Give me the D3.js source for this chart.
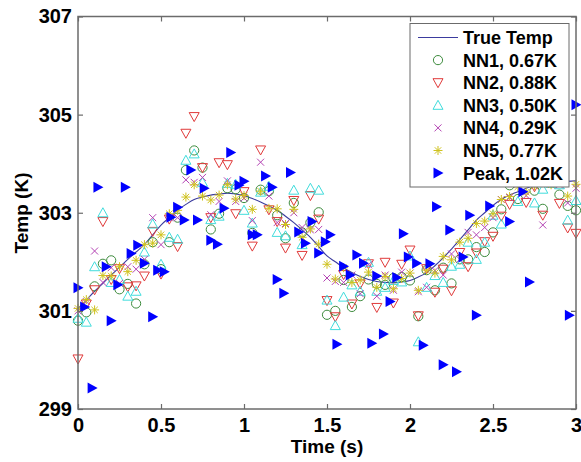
<!DOCTYPE html>
<html><head><meta charset="utf-8">
<script src="https://cdn.jsdelivr.net/npm/d3@7"></script>
<style>body{margin:0;background:#fff;} svg{display:block;font-family:"Liberation Sans",Arial,sans-serif;}</style>
</head><body>
<svg id="c" width="581" height="462"></svg>
<script>
const times = [0,0.05,0.1,0.15,0.2,0.25,0.3,0.35,0.4,0.45,0.5,0.55,0.6,0.65,0.7,0.75,0.8,0.85,0.9,0.95,1,1.05,1.1,1.15,1.2,1.25,1.3,1.35,1.4,1.45,1.5,1.55,1.6,1.65,1.7,1.75,1.8,1.85,1.9,1.95,2,2.05,2.1,2.15,2.2,2.25,2.3,2.35,2.4,2.45,2.5,2.55,2.6,2.65,2.7,2.75,2.8,2.85,2.9,2.95,3];
const trueTemp = [301.05,301.22,301.40,301.56,301.73,301.89,302.05,302.20,302.35,302.55,302.75,302.90,303.05,303.17,303.27,303.32,303.36,303.38,303.40,303.38,303.35,303.29,303.22,303.14,303.05,302.93,302.80,302.65,302.50,302.31,302.12,302.00,301.88,301.78,301.70,301.64,301.60,301.58,301.57,301.59,301.62,301.69,301.78,301.92,302.08,302.26,302.45,302.65,302.85,303.00,303.15,303.27,303.36,303.43,303.50,303.55,303.58,303.60,303.62,303.64,303.65];
const nn1 = [300.80,300.97,301.50,301.96,302.03,301.44,301.55,301.15,301.95,302.40,301.85,302.40,302.90,303.87,304.27,303.92,302.66,302.98,303.50,303.48,303.30,302.59,303.47,303.44,302.95,302.48,303.20,302.60,302.80,303.01,300.92,301.00,301.63,301.08,301.30,301.64,301.55,301.53,301.67,301.69,301.62,300.89,301.83,301.42,301.88,301.56,302.05,302.05,302.30,302.20,302.60,303.07,303.56,303.28,303.80,303.45,303.08,303.85,303.37,303.14,303.05];
const nn2 = [300.02,301.14,301.43,302.82,301.64,301.86,301.49,301.51,301.71,302.62,301.75,302.87,302.31,304.62,304.96,303.92,302.90,304.02,303.98,302.98,303.43,302.32,304.28,303.06,302.82,302.28,303.25,302.13,303.35,302.87,301.21,300.88,301.74,301.14,301.55,301.96,301.07,301.99,301.16,301.95,302.24,300.90,301.86,301.38,301.85,301.41,302.19,301.90,302.18,302.41,302.52,302.93,303.17,303.73,303.21,303.53,302.95,303.91,303.19,302.69,302.58];
const nn3 = [300.85,300.77,301.90,303.00,301.58,301.64,301.30,301.40,302.20,302.77,301.95,302.50,302.46,304.07,304.20,303.62,302.86,302.93,303.60,303.58,303.05,302.79,303.42,303.54,302.60,302.53,303.46,302.35,303.50,303.46,301.22,300.70,301.28,301.53,301.40,301.99,301.40,301.48,301.62,301.59,302.12,300.37,301.48,301.72,301.58,301.91,301.95,302.40,302.05,302.40,302.95,302.77,303.66,303.23,303.70,303.20,303.48,303.60,303.57,302.85,303.25];
const nn4 = [301.00,301.19,302.22,301.58,301.88,301.56,301.90,301.85,302.05,302.90,302.35,302.90,302.90,303.67,303.62,303.72,302.96,303.23,303.65,303.23,303.30,302.84,304.03,303.34,302.80,302.78,303.00,302.70,302.65,302.66,301.67,301.60,301.58,301.73,301.35,301.94,301.30,301.73,301.42,301.79,301.77,301.39,301.48,301.82,301.73,302.16,302.05,302.60,302.55,302.70,302.90,303.27,303.31,303.58,303.35,303.55,302.75,303.85,303.57,303.20,303.50];
const nn5 = [301.05,301.23,301.02,301.72,301.71,301.90,301.80,302.03,302.35,302.38,302.55,302.98,303.05,303.32,303.57,303.34,303.26,303.36,303.57,303.28,303.35,303.07,303.44,303.09,303.08,302.76,303.07,302.50,302.67,302.36,301.95,301.65,301.88,301.58,301.63,301.79,301.48,301.70,301.45,301.66,301.77,301.42,301.83,301.77,302.11,302.04,302.40,302.48,302.78,302.83,302.98,303.27,303.33,303.53,303.42,303.55,303.61,303.57,303.65,303.34,303.58];
const peakTimes = [0,0.04,0.085,0.12,0.17,0.2,0.24,0.285,0.32,0.36,0.4,0.45,0.48,0.52,0.56,0.6,0.64,0.68,0.72,0.76,0.8,0.84,0.88,0.92,0.97,1,1.05,1.08,1.13,1.17,1.2,1.24,1.28,1.33,1.37,1.41,1.45,1.49,1.52,1.56,1.6,1.64,1.68,1.72,1.77,1.8,1.84,1.88,1.92,1.96,1.99,2.04,2.08,2.12,2.16,2.2,2.24,2.28,2.32,2.36,2.4,2.48,2.56,2.6,2.68,2.72,2.76,2.84,2.9,2.96,3];
const peakTemps = [301.47,301.08,299.43,303.52,301.90,300.80,301.53,303.52,302.17,302.34,301.97,300.88,301.83,301.80,302.91,303.11,302.85,303.87,302.85,303.50,302.44,302.36,303.09,304.23,303.56,303.64,302.55,302.55,303.75,303.52,301.64,301.36,303.82,302.61,302.38,302.82,302.18,302.41,302.55,300.32,301.91,301.73,302.14,301.97,300.34,301.71,300.53,301.19,301.68,302.57,302.10,301.97,300.30,301.96,303.12,299.90,302.65,299.76,302.10,302.95,300.91,303.14,303.70,302.82,303.43,301.59,303.90,304.00,303.75,300.91,305.20];
const xTicks = [0,0.5,1,1.5,2,2.5,3];
const xTickLabels = ["0","0.5","1","1.5","2","2.5","3"];
const yTicks = [299,301,303,305,307];
const yTickLabels = ["299","301","303","305","307"];
const seriesNames = ["True Temp","NN1, 0.67K","NN2, 0.88K","NN3, 0.50K","NN4, 0.29K","NN5, 0.77K","Peak, 1.02K"];

const svg = d3.select("#c");
const L=78,R=576,T=16.5,B=409;
const x = d3.scaleLinear().domain([0,3]).range([L,R]);
const y = d3.scaleLinear().domain([299,307]).range([B,T]);
const axisColor="#6b6b6b";

// marker shapes
const shapes = {
  circle: g=>g.append("circle").attr("r",4.6).attr("fill","none"),
  down: g=>g.append("path").attr("d","M-5,-4L5,-4L0,5Z").attr("fill","none"),
  up: g=>g.append("path").attr("d","M-5,4L5,4L0,-5Z").attr("fill","none"),
  x: g=>g.append("path").attr("d","M-3.5,-3.5L3.5,3.5M-3.5,3.5L3.5,-3.5").attr("fill","none"),
  star: g=>g.append("path").attr("d","M-4.5,0L4.5,0M0,-4.5L0,4.5M-3.2,-3.2L3.2,3.2M-3.2,3.2L3.2,-3.2").attr("fill","none"),
  right: g=>g.append("path").attr("d","M-4.5,-5.5L5.5,0L-4.5,5.5Z").attr("stroke","none")
};
const series = [
  {vals:nn1, shape:"circle", color:"#3d8b3d"},
  {vals:nn2, shape:"down", color:"#e03a3a"},
  {vals:nn3, shape:"up", color:"#40dcdc"},
  {vals:nn4, shape:"x", color:"#b444b4"},
  {vals:nn5, shape:"star", color:"#cfc21e"}
];

// true temp line
const line = d3.line().x((d,i)=>x(times[i])).y(d=>y(d)).curve(d3.curveCatmullRom);
svg.append("path").datum(trueTemp).attr("d",line).attr("fill","none").attr("stroke","#3b3b9e").attr("stroke-width",1.1);

function drawMarker(g, shape, color){
  const m = shapes[shape](g);
  if(shape==="right") m.attr("fill",color); else m.attr("stroke",color).attr("stroke-width",1);
}
series.forEach(s=>{
  s.vals.forEach((v,i)=>{
    const g = svg.append("g").attr("transform",`translate(${x(times[i])},${y(v)})`);
    drawMarker(g,s.shape,s.color);
  });
});
peakTemps.forEach((v,i)=>{
  const g = svg.append("g").attr("transform",`translate(${x(peakTimes[i])},${y(v)})`);
  drawMarker(g,"right","#0000ff");
});

// axes
const ax = (g)=>{g.selectAll(".domain").remove(); g.selectAll(".tick line").attr("stroke",axisColor).attr("stroke-width",1.2);};
svg.append("g").attr("transform",`translate(0,${B})`)
  .call(d3.axisBottom(x).tickValues(xTicks).tickFormat((d,i)=>xTickLabels[i]).tickSize(-5).tickPadding(9))
  .call(ax).selectAll("text").attr("font-size",20).attr("font-weight","bold").attr("fill","#000");
svg.append("g").attr("transform",`translate(0,${T})`)
  .call(d3.axisTop(x).tickValues(xTicks).tickFormat("").tickSize(-5)).call(ax);
svg.append("g").attr("transform",`translate(${L},0)`)
  .call(d3.axisLeft(y).tickValues(yTicks).tickFormat((d,i)=>yTickLabels[i]).tickSize(-5).tickPadding(6))
  .call(ax).selectAll("text").attr("font-size",20).attr("font-weight","bold").attr("fill","#000");
svg.append("g").attr("transform",`translate(${R},0)`)
  .call(d3.axisRight(y).tickValues(yTicks).tickFormat("").tickSize(-5)).call(ax);
svg.append("rect").attr("x",L).attr("y",T).attr("width",R-L).attr("height",B-T)
  .attr("fill","none").attr("stroke",axisColor).attr("stroke-width",1.5);

// axis titles
svg.append("text").attr("x",(L+R)/2).attr("y",453).attr("text-anchor","middle")
  .attr("font-size",19).attr("font-weight","bold").text("Time (s)");
svg.append("text").attr("transform","translate(28,213) rotate(-90)").attr("text-anchor","middle")
  .attr("font-size",19).attr("font-weight","bold").text("Temp (K)");

// legend
const lg = svg.append("g");
lg.append("rect").attr("x",410).attr("y",23.5).attr("width",159).attr("height",163.5)
  .attr("fill","#fff").attr("stroke",axisColor).attr("stroke-width",1);
const rowY = i=>37.5+i*22.6;
lg.append("line").attr("x1",418).attr("x2",458).attr("y1",rowY(0)).attr("y2",rowY(0)).attr("stroke","#3b3b9e").attr("stroke-width",1.1);
const legShapes = ["circle","down","up","x","star","right"];
const legColors = ["#3d8b3d","#e03a3a","#40dcdc","#b444b4","#cfc21e","#0000ff"];
legShapes.forEach((s,i)=>{
  const g = lg.append("g").attr("transform",`translate(438,${rowY(i+1)})`);
  drawMarker(g,s,legColors[i]);
});
seriesNames.forEach((n,i)=>{
  lg.append("text").attr("x",463).attr("y",rowY(i)).attr("dy","0.36em")
    .attr("font-size",18).attr("font-weight","bold").text(n);
});
</script>
</body></html>
